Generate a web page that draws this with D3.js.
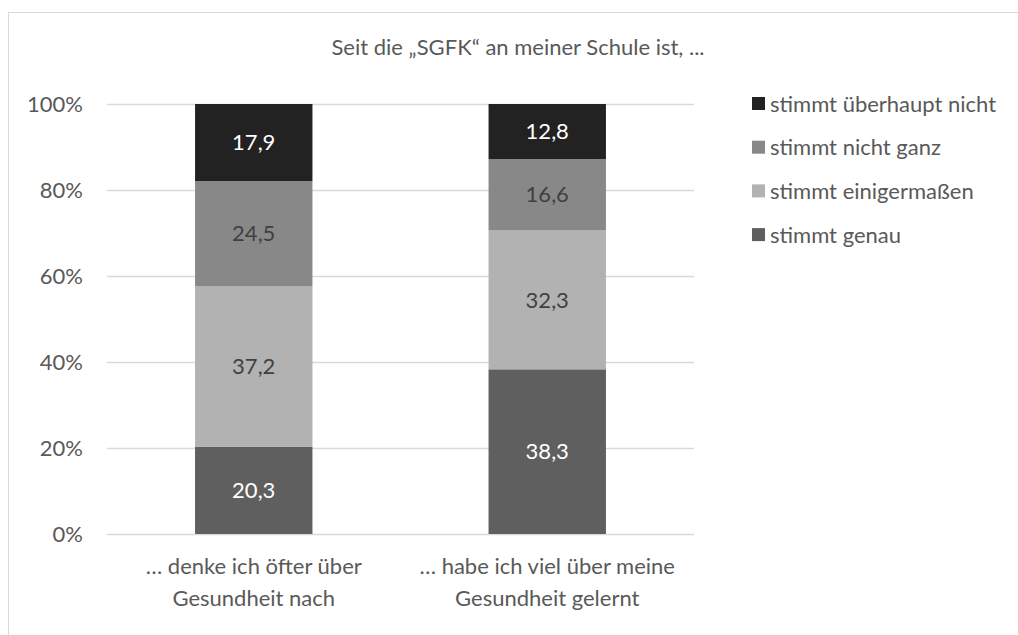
<!DOCTYPE html>
<html>
<head>
<meta charset="utf-8">
<script src="https://cdn.jsdelivr.net/npm/d3@7"></script>
<style>
  body { margin: 0; background: #fff; }
  text { font-family: Lato, "Open Sans", sans-serif; fill: #595959; }
</style>
</head>
<body>
<script>
// Data
const categories = ["… denke ich öfter über\nGesundheit nach", "… habe ich viel über meine\nGesundheit gelernt"];
const seriesNames = ["stimmt genau", "stimmt einigermaßen", "stimmt nicht ganz", "stimmt überhaupt nicht"];
const genau = [20.3, 38.3];
const einigermassen = [37.2, 32.3];
const nichtGanz = [24.5, 16.6];
const ueberhauptNicht = [17.9, 12.8];
const yTicks = [0, 0.2, 0.4, 0.6, 0.8, 1];

const colors = ["#5f5f5f", "#b2b2b2", "#888888", "#222222"];
const labelColors = ["#ffffff", "#404040", "#404040", "#ffffff"];

const width = 1018, height = 635;
const margin = { top: 104, right: 324, bottom: 101, left: 107 };
const innerW = width - margin.left - margin.right;
const innerH = height - margin.top - margin.bottom;
const fontSize = "22px";

const svg = d3.select("body").append("svg")
  .attr("width", width)
  .attr("height", height);

// chart border
svg.append("rect")
  .attr("x", 8.5).attr("y", 12.5)
  .attr("width", width + 10).attr("height", height + 10)
  .attr("fill", "none").attr("stroke", "#d9d9d9");

// title
svg.append("text")
  .attr("x", 518).attr("y", 47)
  .attr("text-anchor", "middle")
  .attr("dy", "0.35em")
  .style("font-size", fontSize)
  .text("Seit die „SGFK“ an meiner Schule ist, ...");

const g = svg.append("g")
  .attr("transform", "translate(" + margin.left + "," + margin.top + ")");

// build rows for stack
const rows = categories.map((c, i) => ({
  cat: c,
  "stimmt genau": genau[i],
  "stimmt einigermaßen": einigermassen[i],
  "stimmt nicht ganz": nichtGanz[i],
  "stimmt überhaupt nicht": ueberhauptNicht[i]
}));

const stacked = d3.stack()
  .keys(seriesNames)
  .offset(d3.stackOffsetExpand)(rows);

const xScale = d3.scaleBand()
  .domain(categories)
  .range([0, innerW])
  .padding(0);

const yScale = d3.scaleLinear()
  .domain([0, 1])
  .range([innerH, 0]);

const barW = xScale.bandwidth() * 0.4;

// gridlines
g.selectAll(".grid")
  .data(yTicks)
  .enter()
  .append("line")
  .attr("x1", 0).attr("x2", innerW)
  .attr("y1", d => Math.round(yScale(d)) + 0.5)
  .attr("y2", d => Math.round(yScale(d)) + 0.5)
  .attr("stroke", "#d9d9d9")
  .attr("stroke-width", 1.5);

// y axis labels
g.selectAll(".ytick")
  .data(yTicks)
  .enter()
  .append("text")
  .attr("x", -24)
  .attr("y", d => yScale(d))
  .attr("dy", "0.35em")
  .attr("text-anchor", "end")
  .style("font-size", fontSize)
  .text(d3.format(".0%"));

// bars
const layers = g.selectAll(".layer")
  .data(stacked)
  .enter()
  .append("g")
  .attr("fill", (d, i) => colors[i]);

layers.selectAll("rect")
  .data(d => d)
  .enter()
  .append("rect")
  .attr("x", d => xScale(d.data.cat) + (xScale.bandwidth() - barW) / 2)
  .attr("y", d => yScale(d[1]))
  .attr("width", barW)
  .attr("height", d => yScale(d[0]) - yScale(d[1]));

// data labels
stacked.forEach((layer, li) => {
  g.selectAll(".lbl" + li)
    .data(layer)
    .enter()
    .append("text")
    .attr("x", d => xScale(d.data.cat) + xScale.bandwidth() / 2)
    .attr("y", d => (yScale(d[0]) + yScale(d[1])) / 2)
    .attr("dy", "0.35em")
    .attr("text-anchor", "middle")
    .style("font-size", fontSize)
    .style("fill", labelColors[li])
    .text(d => d3.format(".1f")(d.data[layer.key]).replace(".", ","));
});

// x axis labels (two lines)
categories.forEach(c => {
  const t = g.append("text")
    .attr("x", xScale(c) + xScale.bandwidth() / 2)
    .attr("y", innerH + 32)
    .attr("text-anchor", "middle")
    .style("font-size", fontSize);
  c.split("\n").forEach((line, i) => {
    t.append("tspan")
      .attr("x", xScale(c) + xScale.bandwidth() / 2)
      .attr("dy", i === 0 ? "0.35em" : "32px")
      .text(line);
  });
});

// legend (top item first)
const legendOrder = seriesNames.slice().reverse();
const legend = svg.selectAll(".legend")
  .data(legendOrder)
  .enter()
  .append("g")
  .attr("transform", (d, i) => "translate(752," + (104 + i * 43.7) + ")");

legend.append("rect")
  .attr("x", 0).attr("y", -7)
  .attr("width", 13).attr("height", 13)
  .attr("fill", d => colors[seriesNames.indexOf(d)]);

legend.append("text")
  .attr("x", 18).attr("y", 0)
  .attr("dy", "0.35em")
  .style("font-size", fontSize)
  .text(d => d);
</script>
</body>
</html>
